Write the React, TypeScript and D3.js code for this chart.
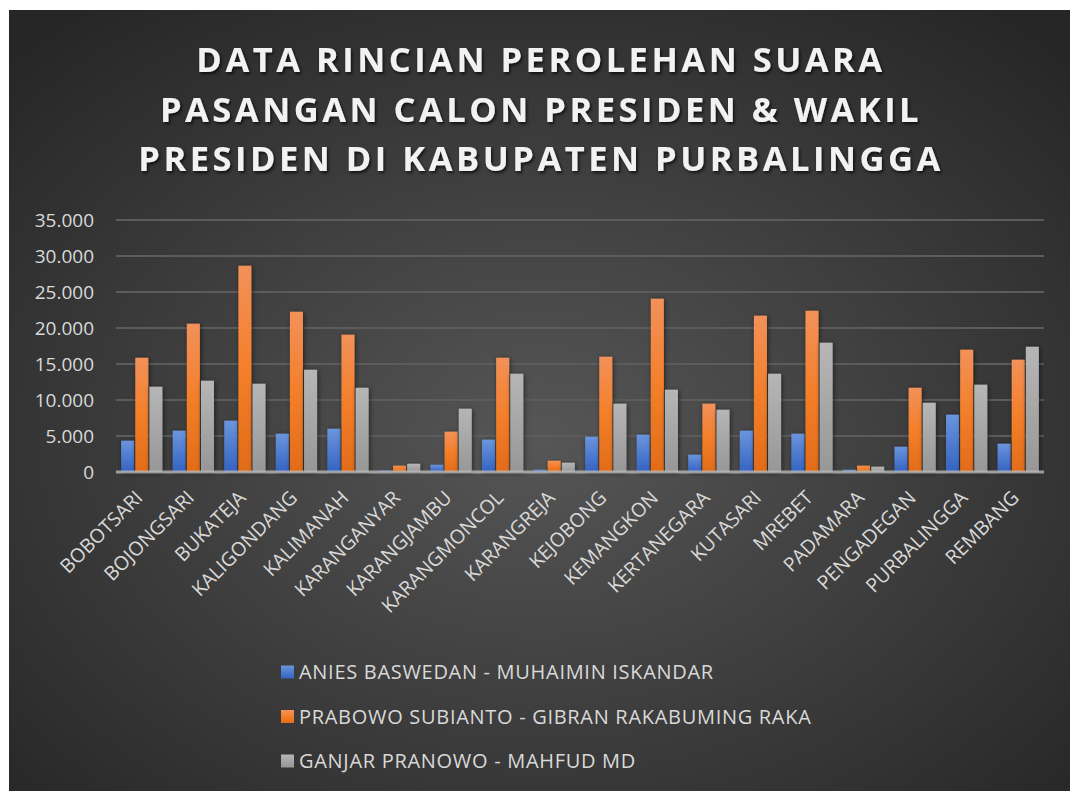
import React from "react";
import * as d3 from "d3";

const categories = [
  "BOBOTSARI", "BOJONGSARI", "BUKATEJA", "KALIGONDANG", "KALIMANAH", "KARANGANYAR",
  "KARANGJAMBU", "KARANGMONCOL", "KARANGREJA", "KEJOBONG", "KEMANGKON", "KERTANEGARA",
  "KUTASARI", "MREBET", "PADAMARA", "PENGADEGAN", "PURBALINGGA", "REMBANG",
];
const seriesNames = [
  "ANIES BASWEDAN - MUHAIMIN ISKANDAR",
  "PRABOWO SUBIANTO - GIBRAN RAKABUMING RAKA",
  "GANJAR PRANOWO - MAHFUD MD",
];
const anies = [4350, 5740, 7130, 5320, 6010, 180, 1010, 4490, 320, 4900, 5180, 2400, 5740, 5320, 320, 3510, 7960, 3930];
const prabowo = [15870, 20600, 28650, 22260, 19070, 880, 5600, 15870, 1570, 16010, 24070, 9490, 21710, 22400, 880, 11700, 16990, 15600];
const ganjar = [11850, 12680, 12260, 14200, 11700, 1150, 8790, 13650, 1290, 9490, 11430, 8650, 13650, 17960, 740, 9620, 12130, 17400];
const yTicks = [0, 5000, 10000, 15000, 20000, 25000, 30000, 35000];
const titleLines = [
  "DATA RINCIAN PEROLEHAN SUARA",
  "PASANGAN CALON PRESIDEN & WAKIL",
  "PRESIDEN DI KABUPATEN PURBALINGGA",
];

const seriesValues = [anies, prabowo, ganjar];
const gradIds = ["gBlue", "gOrange", "gGray"];

const W = 1070, H = 791;
const plot = { left: 116, right: 1044, top: 220, bottom: 472 };

export default function App() {
  const x0 = d3.scaleBand<string>().domain(categories).range([plot.left, plot.right]).padding(0);
  const bw = x0.bandwidth();
  const x1 = d3.scaleBand<number>().domain([0, 1, 2]).range([bw * 0.1, bw * 0.9]).paddingInner(0.08);
  const y = d3.scaleLinear().domain([0, 35000]).range([plot.bottom, plot.top]);
  const fmt = (v: number) => d3.format(",")(v).replace(/,/g, ".");
  const font = "'Open Sans', 'Noto Sans', sans-serif";

  return (
    <svg width={W} height={H} style={{ position: "absolute", left: 0, top: 0, background: "#fff" }}>
      <defs>
        <radialGradient id="bg" cx="0.5" cy="0.55" r="0.7">
          <stop offset="0" stopColor="#565656" />
          <stop offset="1" stopColor="#262626" />
        </radialGradient>
        <linearGradient id="gBlue" x1="0" y1="0" x2="0" y2="1">
          <stop offset="0" stopColor="#6b95dd" />
          <stop offset="1" stopColor="#3463c2" />
        </linearGradient>
        <linearGradient id="gOrange" x1="0" y1="0" x2="0" y2="1">
          <stop offset="0" stopColor="#f2915a" />
          <stop offset="0.5" stopColor="#f47f2a" />
          <stop offset="1" stopColor="#e26c18" />
        </linearGradient>
        <linearGradient id="gGray" x1="0" y1="0" x2="0" y2="1">
          <stop offset="0" stopColor="#b6b6b6" />
          <stop offset="1" stopColor="#979797" />
        </linearGradient>
        <filter id="barShadow" x="-50%" y="-10%" width="200%" height="130%">
          <feDropShadow dx="1" dy="1" stdDeviation="2.5" floodColor="#000" floodOpacity="0.55" />
        </filter>
        <filter id="textShadow" x="-10%" y="-30%" width="120%" height="160%">
          <feDropShadow dx="1.5" dy="2" stdDeviation="1.5" floodColor="#000" floodOpacity="0.7" />
        </filter>
      </defs>
      <rect x={9} y={10} width={W - 9} height={H - 10} fill="url(#bg)" />

      {titleLines.map((t, i) => (
        <text key={t} x={541} y={72 + i * 49.5} textAnchor="middle" fill="#f2f2f2"
          fontFamily={font} fontWeight={700} fontSize={34.5} letterSpacing={3.5}
          filter="url(#textShadow)">{t}</text>
      ))}

      {yTicks.map((t) => (
        <g key={t}>
          {t > 0 && (
            <line x1={plot.left} x2={plot.right} y1={y(t)} y2={y(t)} stroke="#5c5c5c" strokeWidth={2} />
          )}
          <text x={94} y={y(t)} dy="0.35em" textAnchor="end" fill="#d9d9d9" fontFamily={font} fontSize={19}>
            {fmt(t)}
          </text>
        </g>
      ))}

      {categories.map((c, ci) => (
        <g key={c} transform={`translate(${x0(c)},0)`}>
          {seriesValues.map((vals, si) => (
            <rect key={si} x={x1(si)} y={y(vals[ci])} width={x1.bandwidth()}
              height={plot.bottom - y(vals[ci])} fill={`url(#${gradIds[si]})`} filter="url(#barShadow)" />
          ))}
        </g>
      ))}

      <line x1={plot.left} x2={plot.right} y1={plot.bottom} y2={plot.bottom} stroke="#b8b8b8" strokeWidth={3} strokeOpacity={0.8} />

      {categories.map((c) => {
        const cx = (x0(c) as number) + bw / 2 + 2;
        const cy = 499;
        return (
          <text key={c} transform={`translate(${cx},${cy}) rotate(-45)`} textAnchor="end"
            fill="#d9d9d9" fontFamily={font} fontSize={19.5}>{c}</text>
        );
      })}

      {seriesNames.map((n, i) => (
        <g key={n} transform={`translate(281,${672 + i * 44.5})`}>
          <rect x={0} y={-6.5} width={13} height={13} fill={`url(#${gradIds[i]})`} />
          <text x={18} y={0} dy="0.35em" fill="#d9d9d9" fontFamily={font} fontSize={20} letterSpacing={0.7}>{n}</text>
        </g>
      ))}
    </svg>
  );
}
